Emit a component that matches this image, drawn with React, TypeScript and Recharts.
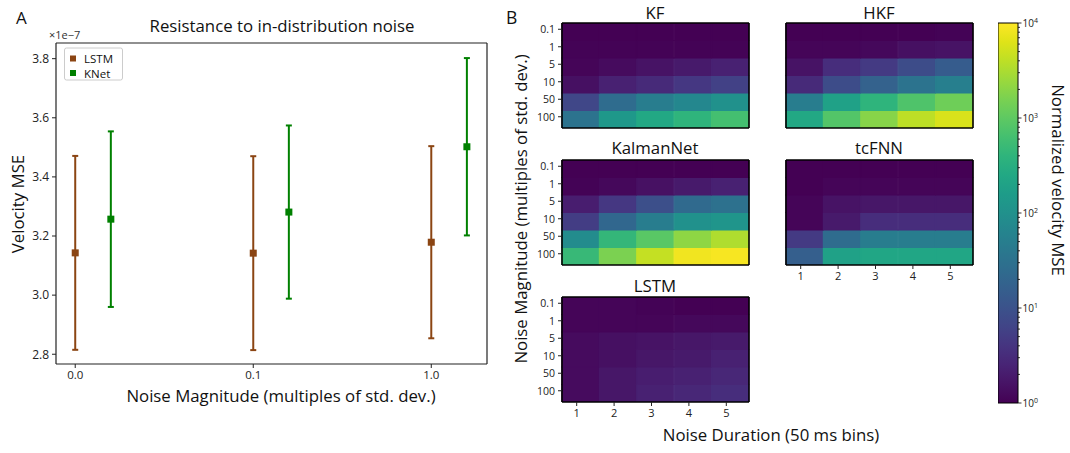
import React from 'react';
import {
  ScatterChart, Scatter, ErrorBar, XAxis, YAxis, BarChart, Bar, Cell,
  ComposedChart, ReferenceArea,
} from 'recharts';

const FONT = '"Open Sans", Lato, sans-serif';

// ---------- Panel A data ----------
const noiseLevels = ['0.0', '0.1', '1.0'];
const lstmMean = [3.143, 3.142, 3.179];
const lstmErr = [0.328, 0.328, 0.325];
const knetMean = [3.257, 3.281, 3.502];
const knetErr = [0.297, 0.293, 0.3];
const knetOffset = 0.2;
const yTicksA = [2.8, 3.0, 3.2, 3.4, 3.6, 3.8];

// ---------- Panel B data (normalized velocity MSE) ----------
const magnitudeLabels = ['0.1', '1', '5', '10', '50', '100'];
const durationLabels = [1, 2, 3, 4, 5];

const kfGrid = [
  [1.0, 1.0, 1.0, 1.0, 1.0],
  [1.05, 1.05, 1.05, 1.05, 1.05],
  [1.1, 1.3, 1.6, 1.9, 2.3],
  [1.45, 2.3, 3.0, 4.4, 5.75],
  [6.9, 25, 48, 69, 100],
  [33, 132, 250, 400, 630],
];
const hkfGrid = [
  [1.0, 1.0, 1.0, 1.0, 1.05],
  [1.1, 1.1, 1.2, 1.45, 1.6],
  [1.6, 3.3, 4.8, 8.3, 14.5],
  [3.0, 8.3, 17.4, 33, 52],
  [48, 190, 400, 760, 1300],
  [250, 830, 1900, 4000, 5800],
];
const kalmanNetGrid = [
  [1.0, 1.0, 1.0, 1.0, 1.0],
  [1.05, 1.2, 1.5, 1.9, 2.3],
  [2.1, 4.4, 9.1, 23, 30],
  [5.2, 21, 48, 100, 120],
  [83, 440, 910, 2100, 3300],
  [480, 1600, 4400, 8300, 9100],
];
const tcfnnGrid = [
  [1.0, 1.0, 1.0, 1.0, 1.0],
  [1.0, 1.1, 1.1, 1.1, 1.1],
  [1.1, 1.6, 1.75, 1.75, 1.75],
  [1.1, 1.9, 3.3, 3.3, 3.3],
  [4.8, 25, 48, 48, 48],
  [15.8, 190, 230, 230, 230],
];
const lstmGrid = [
  [1.1, 1.1, 1.05, 1.0, 1.0],
  [1.1, 1.1, 1.1, 1.2, 1.2],
  [1.3, 1.45, 1.6, 1.75, 1.9],
  [1.3, 1.45, 1.75, 1.9, 2.3],
  [1.3, 1.75, 2.1, 2.3, 2.75],
  [1.3, 1.75, 2.3, 2.75, 3.3],
];
const colorbarMajor = [1, 10, 100, 1000, 10000];

// ---------- viridis ----------
const VIRIDIS = [
  '#440154', '#471365', '#482475', '#463480', '#414487', '#3b528b', '#355f8d',
  '#2f6c8e', '#2a788e', '#25848e', '#21918c', '#1e9c89', '#22a884', '#2fb47c',
  '#44bf70', '#5ec962', '#7ad151', '#9bd93c', '#bddf26', '#dfe318', '#fde725',
];
function hex2rgb(h: string) {
  return [parseInt(h.slice(1, 3), 16), parseInt(h.slice(3, 5), 16), parseInt(h.slice(5, 7), 16)];
}
function viridis(t: number) {
  const tt = Math.max(0, Math.min(1, t)) * (VIRIDIS.length - 1);
  const i = Math.min(VIRIDIS.length - 2, Math.floor(tt));
  const f = tt - i;
  const a = hex2rgb(VIRIDIS[i]);
  const b = hex2rgb(VIRIDIS[i + 1]);
  const c = a.map((v, k) => Math.round(v + (b[k] - v) * f));
  return `rgb(${c[0]},${c[1]},${c[2]})`;
}
const colorOf = (v: number) => viridis(Math.log10(v) / 4);

// ---------- Panel A ----------
const lstmData = noiseLevels.map((_, i) => ({ x: i, y: lstmMean[i], err: lstmErr[i] }));
const knetData = noiseLevels.map((_, i) => ({ x: i + knetOffset, y: knetMean[i], err: knetErr[i] }));
const xDomA: [number, number] = [-0.108, 2.313];
const yDomA: [number, number] = [2.767, 3.853];

const squareShape = (color: string) => (p: any) => (
  <rect x={p.cx - 3.5} y={p.cy - 3.5} width={7} height={7} fill={color} />
);

function PanelA() {
  const axisStyle = { stroke: '#222', strokeWidth: 1.2 };
  return (
    <div style={{ position: 'absolute', left: 0, top: 0 }}>
      <ScatterChart width={500} height={420} margin={{ top: 42, right: 12, bottom: 26, left: 0 }}>
        <XAxis type="number" dataKey="x" domain={xDomA} ticks={[0, 1, 2]} allowDataOverflow interval={0}
          tickFormatter={(v: number) => noiseLevels[v]} height={30} tickSize={4} tickMargin={3}
          axisLine={axisStyle} tickLine={{ stroke: '#222' }}
          tick={{ fontSize: 11.5, fill: '#222', fontFamily: FONT }} />
        <XAxis xAxisId="top" orientation="top" type="number" dataKey="x" domain={xDomA} allowDataOverflow
          height={1} tick={false} tickLine={false} axisLine={axisStyle} />
        <YAxis type="number" dataKey="y" domain={yDomA} ticks={yTicksA} allowDataOverflow interval={0}
          tickFormatter={(v: number) => v.toFixed(1)} width={56} tickSize={4} tickMargin={3}
          axisLine={axisStyle} tickLine={{ stroke: '#222' }}
          tick={{ fontSize: 12, fill: '#222', fontFamily: FONT }} />
        <YAxis yAxisId="right" orientation="right" type="number" dataKey="y" domain={yDomA} allowDataOverflow
          width={1} tick={false} tickLine={false} axisLine={axisStyle} />
        <Scatter data={lstmData} fill="#8B4513" shape={squareShape('#8B4513')} isAnimationActive={false}>
          <ErrorBar dataKey="err" direction="y" width={3} strokeWidth={2} stroke="#8B4513" />
        </Scatter>
        <Scatter data={knetData} fill="#008000" shape={squareShape('#008000')} isAnimationActive={false}>
          <ErrorBar dataKey="err" direction="y" width={3} strokeWidth={2} stroke="#008000" />
        </Scatter>
      </ScatterChart>
    </div>
  );
}

// ---------- Heatmaps ----------
const rowIdx = [0, 1, 2, 3, 4, 5];
const yTickVals = rowIdx.map((k) => k + 0.5);

const HmXTick = (p: any) => (
  <g>
    <line x1={p.x - 4} x2={p.x - 4} y1={p.y} y2={p.y + 4} stroke="#222" strokeWidth={1} />
    <text x={p.x - 4} y={p.y + 15} textAnchor="middle" fontSize={11} fill="#222" fontFamily={FONT}>
      {p.payload.value}
    </text>
  </g>
);
const HmYTick = (p: any) => {
  const lbl = magnitudeLabels[5 - Math.floor(p.payload.value)];
  const yy = p.y - 2.5;
  return (
    <g>
      <line x1={p.x - 4} x2={p.x} y1={yy} y2={yy} stroke="#222" strokeWidth={1} />
      <text x={p.x - 7} y={yy + 4} textAnchor="end" fontSize={10.5} fill="#222" fontFamily={FONT}>
        {lbl}
      </text>
    </g>
  );
};

function Heatmap({ grid, left, top, showX, showY, id }: any) {
  const data = durationLabels.map((d) => {
    const o: any = { d };
    rowIdx.forEach((k) => { o['r' + k] = 1; });
    return o;
  });
  const border = { stroke: '#000', strokeWidth: 1.6 };
  return (
    <div style={{ position: 'absolute', left: left - 40, top: top - 2 }}>
      <BarChart width={229} height={129} data={data} margin={{ top: 1, right: 1, bottom: 0, left: 0 }}
        barCategoryGap={0} barGap={0}>
        <XAxis dataKey="d" height={22} axisLine={border} tickLine={false} tickSize={0} tickMargin={0}
          interval={0} tick={showX ? <HmXTick /> : false} />
        <XAxis xAxisId="t" dataKey="d" orientation="top" height={1} tick={false} tickLine={false} axisLine={border} />
        <YAxis type="number" domain={[0, 6]} ticks={yTickVals} width={40} axisLine={border} tickLine={false}
          interval={0} tickSize={0} tickMargin={0} tick={showY ? <HmYTick /> : false} allowDataOverflow />
        <YAxis yAxisId="r" orientation="right" type="number" domain={[0, 6]} width={1} tick={false}
          tickLine={false} axisLine={border} />
        {rowIdx.map((k) => (
          <Bar key={id + k} dataKey={'r' + k} stackId="s" isAnimationActive={false}>
            {durationLabels.map((_, j) => {
              const c = colorOf(grid[5 - k][j]);
              return <Cell key={j} fill={c} stroke={c} strokeWidth={1.2} />;
            })}
          </Bar>
        ))}
      </BarChart>
    </div>
  );
}

// ---------- Colorbar ----------
const cbTicks: number[] = [];
for (let e = 0; e < 4; e++) {
  for (let m = 1; m < 10; m++) cbTicks.push(m * Math.pow(10, e));
}
cbTicks.push(10000);

const CbTick = (p: any) => {
  const v = p.payload.value;
  const lg = Math.log10(v);
  const e = Math.round(lg);
  const major = Math.abs(lg - e) < 1e-6;
  return (
    <g>
      <line x1={p.x} x2={p.x + (major ? 3.5 : 2)} y1={p.y} y2={p.y} stroke="#000" strokeWidth={0.8} />
      {major && (
        <text x={p.x + 4.5} y={p.y + 4} fontSize={10} fill="#222" fontFamily={FONT}>
          10<tspan dy={-4.5} fontSize={7}>{e}</tspan>
        </text>
      )}
    </g>
  );
};

function Colorbar() {
  return (
    <div style={{ position: 'absolute', left: 998, top: 8 }}>
      <ComposedChart width={60} height={405} data={[{ x: 0 }, { x: 1 }]} margin={{ top: 15, right: 0, bottom: 10, left: 0 }}>
        <XAxis type="number" dataKey="x" domain={[0, 1]} hide />
        <YAxis type="number" scale="log" domain={[colorbarMajor[0], colorbarMajor[4]]} orientation="right"
          ticks={cbTicks} width={40} tick={<CbTick />} tickSize={0} tickMargin={0} axisLine={false}
          tickLine={false} allowDataOverflow interval={0} />
        <ReferenceArea x1={0} x2={1} y1={colorbarMajor[0]} y2={colorbarMajor[4]} fill="url(#viridisGrad)"
          fillOpacity={1} stroke="#000" strokeWidth={1} ifOverflow="visible" />
      </ComposedChart>
    </div>
  );
}

export default function App() {
  const big = 16.8;
  return (
    <div style={{ position: 'absolute', left: 0, top: 0, width: 1070, height: 453, background: '#fff', fontFamily: FONT }}>
      <svg width={0} height={0} style={{ position: 'absolute' }}>
        <defs>
          <linearGradient id="viridisGrad" x1="0" y1="1" x2="0" y2="0">
            {VIRIDIS.map((c, i) => (
              <stop key={i} offset={`${(i / (VIRIDIS.length - 1)) * 100}%`} stopColor={c} />
            ))}
          </linearGradient>
        </defs>
      </svg>
      <PanelA />
      <Heatmap id="kf" grid={kfGrid} left={562} top={23} showX={false} showY={true} />
      <Heatmap id="hkf" grid={hkfGrid} left={786} top={23} showX={false} showY={false} />
      <Heatmap id="kn" grid={kalmanNetGrid} left={562} top={159.5} showX={false} showY={true} />
      <Heatmap id="tc" grid={tcfnnGrid} left={786} top={159.5} showX={true} showY={false} />
      <Heatmap id="ls" grid={lstmGrid} left={562} top={297} showX={true} showY={true} />
      <Colorbar />
      <svg width={1070} height={453} style={{ position: 'absolute', left: 0, top: 0, pointerEvents: 'none' }}
        fontFamily={FONT} fill="#111">
        <text x={16} y={24} fontSize={17}>A</text>
        <text x={282} y={31.5} fontSize={big} textAnchor="middle">Resistance to in-distribution noise</text>
        <text x={49} y={39} fontSize={11} fill="#333">×1e−7</text>
        <text transform="translate(24,204) rotate(-90)" fontSize={big} textAnchor="middle">Velocity MSE</text>
        <text x={281} y={402} fontSize={big} textAnchor="middle">Noise Magnitude (multiples of std. dev.)</text>
        <g>
          <rect x={64.5} y={48} width={58} height={32} rx={2} fill="#fff" fillOpacity={0.85} stroke="#ccc" />
          <rect x={70} y={55.5} width={6} height={6} fill="#8B4513" />
          <text x={84} y={62.5} fontSize={11.5}>LSTM</text>
          <rect x={70} y={70} width={6} height={6} fill="#008000" />
          <text x={84} y={77.5} fontSize={11.5}>KNet</text>
        </g>
        <text x={506} y={24} fontSize={17.5}>B</text>
        <text x={655} y={19} fontSize={big} textAnchor="middle">KF</text>
        <text x={879} y={19} fontSize={big} textAnchor="middle">HKF</text>
        <text x={655} y={154} fontSize={big} textAnchor="middle">KalmanNet</text>
        <text x={879} y={153.5} fontSize={big} textAnchor="middle">tcFNN</text>
        <text x={655} y={292} fontSize={big} textAnchor="middle">LSTM</text>
        <text transform="translate(527,209) rotate(-90)" fontSize={big} textAnchor="middle">Noise Magnitude (multiples of std. dev.)</text>
        <text x={771} y={441} fontSize={big} textAnchor="middle">Noise Duration (50 ms bins)</text>
        <text transform="translate(1051.5,180) rotate(90)" fontSize={big} textAnchor="middle">Normalized velocity MSE</text>
      </svg>
    </div>
  );
}
